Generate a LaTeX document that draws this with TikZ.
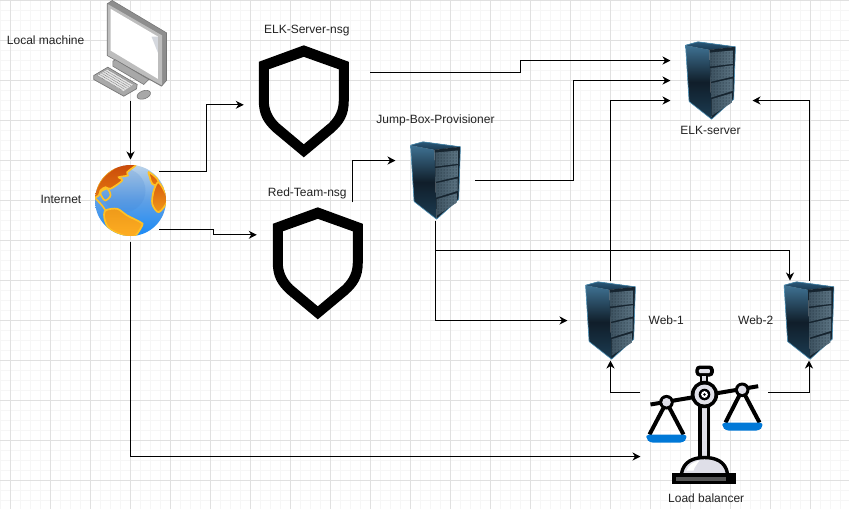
\documentclass[tikz,border=0pt]{standalone}
\usepackage{fontspec}
\setmainfont{Liberation Sans}
\usepackage{tikz}
\usetikzlibrary{arrows.meta}
\usetikzlibrary{patterns}
\usetikzlibrary{positioning}

\definecolor{gridmajor}{HTML}{E0E0E0}
\definecolor{gridminor}{HTML}{F6F6F6}
\definecolor{labeltext}{HTML}{222222}
\definecolor{panblue}{HTML}{0078D7}
\definecolor{scalegray}{HTML}{DFDFE8}
\definecolor{basegray}{HTML}{555555}
\definecolor{srvtopa}{HTML}{2A5878}
\definecolor{srvtopb}{HTML}{1A3A52}
\definecolor{srvsidea}{HTML}{3F7293}
\definecolor{srvsideb}{HTML}{101E2A}
\definecolor{srvsidec}{HTML}{1C3C52}
\definecolor{srvfront}{HTML}{16242F}
\definecolor{srvedge}{HTML}{4A8DB2}
\definecolor{panela}{HTML}{3E5361}
\definecolor{panelb}{HTML}{5C7483}
\definecolor{monside}{HTML}{8E8E8E}
\definecolor{monfront}{HTML}{BDBDBD}
\definecolor{monglare}{HTML}{D5D8DE}
\definecolor{monedge}{HTML}{777777}
\definecolor{monstand}{HTML}{A8A8A8}
\definecolor{monkeys}{HTML}{E4E4E4}
\definecolor{globetop}{HTML}{BCD3E8}
\definecolor{globemid}{HTML}{5FA0E6}
\definecolor{globebot}{HTML}{1A8AF6}
\definecolor{globeglare}{HTML}{3F7FD0}
\definecolor{landedge}{HTML}{FFC125}
\definecolor{landa}{HTML}{C8480A}
\definecolor{landb}{HTML}{E67A10}
\definecolor{landc}{HTML}{EE9A1A}
\definecolor{landd}{HTML}{FFAE22}
\definecolor{lande}{HTML}{D85A0C}
\definecolor{landf}{HTML}{F09A1A}

\tikzset{
    iconbox/.style 2 args={inner sep=0pt,outer sep=0pt,minimum width=#1,minimum height=#2},
    serverbox/.style={iconbox={50pt}{80pt}},
    shieldbox/.style={iconbox={90pt}{112pt}},
    caption/.style={inner sep=0pt,text height=10pt,text depth=2pt,text=labeltext,font=\fontsize{12pt}{14pt}\selectfont},
    conn/.style={line width=1pt,-{Stealth[length=8pt,width=8pt,inset=2.5pt]}},
    servericon/.pic={
        \begin{scope}[xscale=1.07]
        \fill [top color=srvtopa,bottom color=srvtopb] (-23.3,-35.3) -- (-11.7,-38.7) -- (23.3,-33.7) -- (-1,-30.7) -- cycle;
        \shade [top color=srvsidea,bottom color=srvsidec,middle color=srvsideb] (-23.3,-35.3) -- (-1,-30.7) -- (1,38.7) -- (-20,21) -- cycle;
        \fill [srvfront] (-1,-30.7) -- (23.3,-33.7) -- (21.7,18.7) -- (1,38.7) -- cycle;
        \draw [srvedge,line width=.6pt,line join=round] (-23.3,-35.3) -- (-11.7,-38.7) -- (23.3,-33.7) -- (21.7,18.7) -- (1,38.7) -- (-20,21) -- cycle;
        \foreach \pa/\pb/\pc/\pd/\pe/\pf/\pg/\ph in {0/-28/21/-30/21/-16.7/0/-14,0/-12.3/21/-15.3/21/-4/0/1.3,.7/2.7/20.7/-2/20.7/10.3/.7/17,1/18.7/20/12.7/20/22/1/35.3}{
            \shade [left color=panela,right color=panelb] (\pa,\pb) -- (\pc,\pd) -- (\pe,\pf) -- (\pg,\ph) -- cycle;
            \fill [pattern=dots,pattern color=srvfront] (\pa,\pb) -- (\pc,\pd) -- (\pe,\pf) -- (\pg,\ph) -- cycle;
        }
        \end{scope}
    },
    shieldicon/.pic={
        \fill [black,even odd rule] (0,-56) -- (45,-39.5) -- (45,-1) .. controls (45,14) and (40,22) .. (30,31) -- (0,56) -- (-30,31) .. controls (-40,22) and (-45,14) .. (-45,-1) -- (-45,-39.5) -- cycle
            (0,-44.5) -- (35,-32) -- (35,-1) .. controls (35,8) and (32,15) .. (25,22) -- (0,43) -- (-25,22) .. controls (-32,15) and (-35,8) .. (-35,-1) -- (-35,-32) -- cycle;
    },
    monitoricon/.pic={
        \fill [monside] (-23.3,-46.7) -- (-18.3,-50) -- (36,-17.7) -- (36,30) -- (31,35.7) -- (-23.3,5) -- cycle;
        \fill [monfront] (-23.3,-46.7) -- (31.7,-15) -- (31.7,35) -- (-23.3,5) -- cycle;
        \fill [white] (-20,-41.7) -- (27.3,-14) -- (27.3,28.3) -- (-20,0) -- cycle;
        \fill [monglare] (27.3,-14) -- (27.3,2) -- (21,-14) -- cycle;
        \draw [monedge,line width=.6pt,line join=round] (-23.3,-46.7) -- (-18.3,-50) -- (36,-17.7) -- (36,30) -- (31,35.7) -- (-23.3,5) -- cycle;
        \fill [monstand,draw=monedge,line width=.6pt] (-17.7,10.7) -- (-15,9.3) -- (18.3,29) -- (13.3,34) -- (-17.7,15.7) -- cycle;
        \fill [monstand,draw=monedge,line width=.7pt,line join=round] (-36.7,25) -- (-22.7,16.7) -- (6.7,34) -- (6,38.3) -- (-6.7,45.7) -- (-36.7,29) -- cycle;
        \fill [monkeys] (-33.3,25) -- (-22.7,19) -- (2.7,34) -- (-7.3,40.7) -- cycle;
        \foreach \s in {0,1,2,3,4,5}
            \draw [monedge,line width=.5pt,dash pattern=on .8pt off .6pt] ({-33.3+2.12*\s},{25-1.2*\s}) -- ++(25.4,15);
        \fill [monstand,draw=monedge,line width=.6pt,rotate around={20:(13.3,44.3)}] (13.3,44.3) ellipse (7pt and 4pt);
    },
    globeicon/.pic={
        \shade [top color=globetop,bottom color=globebot,middle color=globemid] (0,0) circle (35.5pt);
        \begin{scope}
            \clip (0,0) circle (35.5pt);
            \fill [globeglare,opacity=.18] (-7,-10) circle (22pt);
            \draw [landedge,line width=1.7pt,top color=landa,bottom color=landb] plot [smooth cycle,tension=.5] coordinates {(-38,-3) (-30,-20) (-20,-30) (-6.7,-37) (6.7,-37) (-3.3,-28.3) (-2.7,-25) (-11.7,-23.3) (-8.3,-20) (-20,-11.7) (-25,-13.3) (-30,-10) (-31.7,-5)};
            \draw [landedge,line width=1.7pt] plot [smooth cycle,tension=.6] coordinates {(-30,-8.3) (-23.3,-11.7) (-20,-5) (-25,0) (-28.3,-3.3)};
            \draw [landedge,line width=1.7pt] (-36,-3) .. controls (-30,3) and (-28,5) .. (-25,10);
            \draw [landedge,line width=1.7pt,top color=landc,bottom color=landd] plot [smooth cycle,tension=.5] coordinates {(-25,10) (-13.3,8.3) (-3.3,15) (10,21.7) (11.7,25) (1.7,37) (-20,29) (-26,18.3)};
            \draw [landedge,line width=1.7pt,top color=lande,bottom color=landb] plot [smooth cycle,tension=.5] coordinates {(18.3,-28.3) (26.7,-21.7) (28.3,-15) (21.7,-16.7) (19.3,-23.3)};
            \draw [landedge,line width=1.7pt,top color=lande,bottom color=landf] plot [smooth cycle,tension=.5] coordinates {(23.3,-10) (28.3,-18) (37,-1) (28.3,11.7) (21.7,3.3)};
        \end{scope}
    },
    scaleicon/.pic={
        \draw [black,line width=4pt] (-54,-19) -- (53.7,-37.3);
        \draw [black,line width=4pt] (-55,11) -- (-38,-21.3) -- (-21,11);
        \draw [black,line width=4pt] (21,-1) -- (37.7,-33.7) -- (55,-1);
        \fill [panblue,rounded corners=3pt] (-58,11) -- (-18,11) -- (-18,15) -- (-21,19) -- (-55,19) -- (-58,15) -- cycle;
        \fill [panblue,rounded corners=3pt] (18,-1) -- (58,-1) -- (58,3) -- (55,7) -- (21,7) -- (18,3) -- cycle;
        \foreach \px/\py in {-38/-21.3,37.7/-33.7}{
            \fill [black] (\px,\py) circle (7.3pt);
            \fill [scalegray] (\px,\py) circle (4.3pt);
        }
        \fill [black] (-6,-40) rectangle (6,36);
        \fill [scalegray] (-2.5,-40) rectangle (2.5,36);
        \fill [black,rounded corners=4pt] (-9,-58) rectangle (9.3,-47);
        \fill [scalegray,rounded corners=1pt] (-5.5,-54.5) rectangle (5.5,-50.5);
        \fill [black] (-4,-48) rectangle (4,-40);
        \fill [scalegray] (-2,-48) rectangle (2,-40);
        \fill [black] (0,-29) circle (13.7pt);
        \fill [scalegray] (0,-29) circle (10pt);
        \fill [black] (0,-29) circle (5.8pt);
        \fill [white] (0,-29) circle (3.4pt);
        \fill [black] (0,-29) circle (1.4pt);
        \draw [black,line width=3.4pt,fill=scalegray] (-23,50) .. controls (-21,38) and (-11,34) .. (0,34) .. controls (11,34) and (21,38) .. (23,50);
        \fill [white] (-18,47) .. controls (-16,41) and (-10,38) .. (-5,37) .. controls (-8,41) and (-10,44) .. (-11,47) -- cycle;
        \fill [black] (-32,49) rectangle (32,60.3);
        \fill [basegray] (-28,53) rectangle (22,57);
    },
}

\begin{document}
\begin{tikzpicture}[x=1pt,y=-1pt]
        \useasboundingbox (0,0) rectangle (849,509);
        \fill [white] (0,0) rectangle (849,509);
        \foreach \gx in {0,10,...,840} \draw [gridminor,line width=1pt] (\gx+.5,0) -- (\gx+.5,509);
        \foreach \gy in {10,20,...,500} \draw [gridminor,line width=1pt] (0,\gy+.5) -- (849,\gy+.5);
        \foreach \gx in {10,50,...,810} \draw [gridmajor,line width=1pt] (\gx+.5,0) -- (\gx+.5,509);
        \foreach \gy in {0,40,...,480} \draw [gridmajor,line width=1pt] (0,\gy+.5) -- (849,\gy+.5);

        \node (local) [iconbox={80pt}{100pt}] at (130.5,50.5) {};
        \node (internet) [circle,inner sep=0pt,outer sep=0pt,minimum size=82pt,below=59pt of local] {};
        \node (elknsg) [shieldbox,above right=14.2pt and 99.3pt of internet] {};
        \node (rednsg) [shieldbox,below right=50pt and -76pt of elknsg] {};
        \node (jump) [serverbox,below right=-16.8pt and 61.7pt of elknsg] {};
        \node (elk) [serverbox,above right=20pt and 225pt of jump] {};
        \node (web1) [serverbox,below right=60pt and 125pt of jump] {};
        \node (web2) [serverbox,right=148.5pt of web1] {};
        \node (lb) [iconbox={128pt}{120pt},below right=3pt and 5pt of web1] {};

        \pic at (local) {monitoricon};
        \pic at (internet) {globeicon};
        \pic at (elknsg) {shieldicon};
        \pic at (rednsg) {shieldicon};
        \pic at (jump) {servericon};
        \pic at (elk) {servericon};
        \pic at (web1) {servericon};
        \pic at (web2) {servericon};
        \pic at (lb) {scaleicon};

        \node (locallabel) [caption,left=6pt of local,yshift=10.5pt] {Local machine};
        \node (internetlabel) [caption,left=8pt of internet,yshift=1pt] {Internet};
        \node (elknsglabel) [caption,above=9.3pt of elknsg,xshift=3pt] {ELK-Server-nsg};
        \node (rednsglabel) [caption,above=9pt of rednsg,xshift=-10.5pt] {Red-Team-nsg};
        \node (jumplabel) [caption,above=14.5pt of jump] {Jump-Box-Provisioner};
        \node (elklabel) [caption,below=3.3pt of elk] {ELK-server};
        \node (web1label) [caption,right=13pt of web1] {Web-1};
        \node (web2label) [caption,left=10.5pt of web2] {Web-2};
        \node (lblabel) [caption,below=8.7pt of lb,xshift=1.7pt] {Load balancer};

        \draw [conn] (local.south) -- (internet.north);
        \draw [conn] (internet.45) -- ++(47.5,0) |- ([xshift=-15pt,yshift=-3.5pt]elknsg.west);
        \draw [conn] (internet.-45) -- ++(54,0) |- ([xshift=-16pt,yshift=28.5pt]rednsg.west);
        \draw [conn] (internet.south) |- ([yshift=-33pt]lb.west);
        \draw [conn] ([xshift=35pt,yshift=5pt]rednsg.north) |- ([xshift=-15pt,yshift=20pt]jump.west);
        \draw [conn] ([xshift=21.7pt,yshift=29pt]elknsg.east) -- ++(150,0) |- ([xshift=-15pt,yshift=20pt]elk.west);
        \draw [conn] ([xshift=15pt]jump.east) -- ++(98,0) |- ([xshift=-15pt]elk.west);
        \draw [conn] (jump.south) |- ([xshift=-18pt]web1.west);
        \draw [conn] (jump.south) -- ++(0,30) -| ([xshift=-19pt]web2.north);
        \draw [conn] (web1.north) |- ([xshift=-15pt,yshift=-20pt]elk.west);
        \draw [conn] (web2.north) |- ([xshift=17pt,yshift=-20pt]elk.east);
        \draw [conn] ([yshift=31pt]lb.west) -| (web1.south);
        \draw [conn] ([yshift=31pt]lb.east) -| (web2.south);
    \end{tikzpicture}
\end{document}
